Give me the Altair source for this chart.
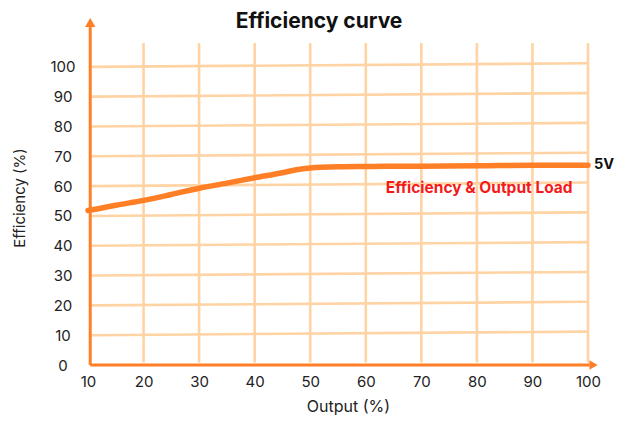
import altair as alt
import pandas as pd

# ---- data ----
output_pct = [10, 15, 20, 25, 30, 35, 40, 45, 47.5, 50, 55, 60, 70, 80, 90, 100]
efficiency_pct = [51.8, 53.6, 55.2, 57.2, 59.3, 61.0, 62.8, 64.5, 65.5, 66.1, 66.5, 66.6, 66.7, 66.8, 67.0, 67.0]
x_ticks = [10, 20, 30, 40, 50, 60, 70, 80, 90, 100]
y_ticks = [0, 10, 20, 30, 40, 50, 60, 70, 80, 90, 100]
series_name = "5V"
annotation_text = "Efficiency & Output Load"
chart_title = "Efficiency curve"
x_title = "Output (%)"
y_title = "Efficiency (%)"

# ---- styling ----
FONT = "Inter"
ORANGE = "#FF7F27"
GRID = "#FFD3A3"
RED = "#F51A1A"
TILT = 1.2  # hand-drawn slant of the horizontal grid lines (data units)

x_scale = alt.Scale(domain=[10, 100], nice=False, zero=False)
y_scale = alt.Scale(domain=[0, 108], nice=False, zero=False)

x_axis = alt.Axis(
    values=x_ticks,
    title=x_title,
    grid=False,
    domain=False,
    ticks=False,
    tickSize=0,
    labelFlush=False,
    labelOverlap=False,
    labelPadding=9,
    labelFont=FONT,
    labelFontSize=15,
    labelColor="#222222",
    titleFont=FONT,
    titleFontSize=16,
    titleFontWeight="normal",
    titleColor="#222222",
    titleX=260,
    titleY=46.5,
    titleAlign="center",
    titleBaseline="alphabetic",
)
y_axis = alt.Axis(
    values=y_ticks,
    title=y_title,
    grid=False,
    domain=False,
    ticks=False,
    tickSize=0,
    labelFlush=False,
    labelOverlap=False,
    labelAlign="center",
    labelBaseline="middle",
    labelPadding=25.5,
    labelFont=FONT,
    labelFontSize=15,
    labelColor="#222222",
    titleFont=FONT,
    titleFontSize=15,
    titleFontWeight="normal",
    titleColor="#222222",
    titleAngle=270,
    titleX=-64,
    titleY=154.5,
    titleAlign="center",
    titleBaseline="alphabetic",
)


def X(field):
    return alt.X(field, scale=x_scale, axis=x_axis)


def Y(field):
    return alt.Y(field, scale=y_scale, axis=y_axis)


curve = pd.DataFrame({"x": output_pct, "y": efficiency_pct})
hgrid = pd.DataFrame({"y": [v for v in y_ticks if v > 0]})
hgrid["y2"] = hgrid["y"] + TILT
hgrid["x"] = 10.6
hgrid["x2"] = 99.8
vgrid = pd.DataFrame({"x": [v for v in x_ticks if v > x_ticks[0]]})
vgrid["y"] = 0.8
vgrid["y2"] = 108

vg = alt.Chart(vgrid).mark_rule(color=GRID, strokeWidth=2.6).encode(
    x=X("x:Q"), y=Y("y:Q"), y2="y2:Q"
)
hg = alt.Chart(hgrid).mark_rule(color=GRID, strokeWidth=2.6).encode(
    x=X("x:Q"), x2="x2:Q", y=Y("y:Q"), y2="y2:Q"
)

yaxis_line = alt.Chart(pd.DataFrame({"x": [10.4], "y": [0], "y2": [113.5]})).mark_rule(
    color=ORANGE, strokeWidth=3
).encode(x=X("x:Q"), y=Y("y:Q"), y2="y2:Q")
xaxis_line = alt.Chart(pd.DataFrame({"x": [10.4], "x2": [100.3], "y": [0]})).mark_rule(
    color=ORANGE, strokeWidth=3
).encode(x=X("x:Q"), x2="x2:Q", y=Y("y:Q"))
yarrow = alt.Chart(pd.DataFrame({"x": [10.4], "y": [114.9]})).mark_point(
    shape="triangle-up", filled=True, color=ORANGE, size=110, opacity=1
).encode(x=X("x:Q"), y=Y("y:Q"))
xarrow = alt.Chart(pd.DataFrame({"x": [101.0], "y": [0]})).mark_point(
    shape="triangle-right", filled=True, color=ORANGE, size=90, opacity=1
).encode(x=X("x:Q"), y=Y("y:Q"))

line = alt.Chart(curve).mark_line(
    color=ORANGE, strokeWidth=5.5, interpolate="monotone", strokeCap="round"
).encode(x=X("x:Q"), y=Y("y:Q"))

end_label = alt.Chart(
    pd.DataFrame({"x": [output_pct[-1]], "y": [efficiency_pct[-1]], "t": [series_name]})
).mark_text(
    align="left", baseline="middle", dx=6, font=FONT, fontSize=14.5, fontWeight="bold", color="#111111"
).encode(x=X("x:Q"), y=Y("y:Q"), text="t:N")

annot = alt.Chart(pd.DataFrame({"x": [63.6], "y": [57.6], "t": [annotation_text]})).mark_text(
    align="left", baseline="alphabetic", font=FONT, fontSize=15.5, fontWeight="bold", color=RED
).encode(x=X("x:Q"), y=Y("y:Q"), text="t:N")

chart = (
    alt.layer(vg, hg, xaxis_line, yaxis_line, yarrow, xarrow, line, end_label, annot)
    .properties(
        width=500,
        height=322,
        autosize=alt.AutoSizeParams(type="none"),
        padding={"left": 80, "top": 35, "right": 26, "bottom": 51},
        title=alt.TitleParams(
            text=chart_title,
            font=FONT,
            fontSize=21,
            fontWeight="bold",
            color="#111111",
            anchor="middle",
            frame="group",
            dx=-19,
            offset=0,
            dy=31,
            baseline="alphabetic",
        ),
        background="white",
    )
    .configure_view(stroke=None)
)

chart.save("out.html", embed_options={"renderer": "svg", "actions": False})
